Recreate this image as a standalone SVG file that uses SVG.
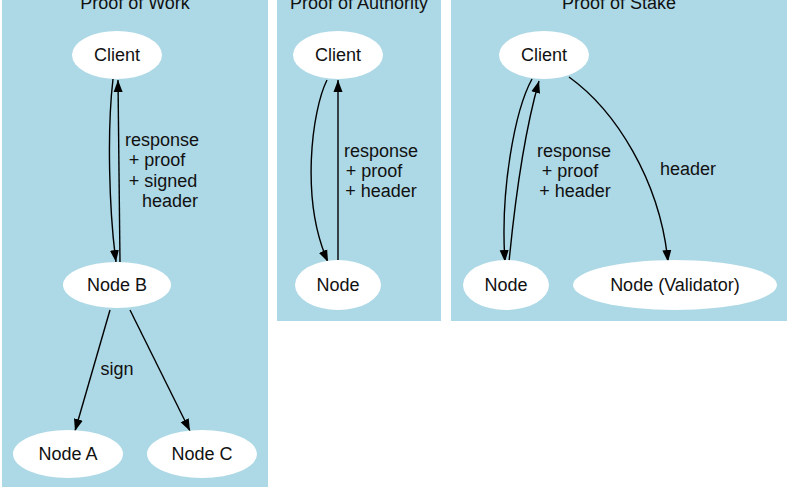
<svg xmlns="http://www.w3.org/2000/svg" width="787" height="487" viewBox="0 0 787 487">
<defs>
<marker id="arr" markerWidth="12" markerHeight="10" refX="12" refY="5" orient="auto" markerUnits="userSpaceOnUse">
<path d="M0,0.5 L12,5 L0,9.5 Z" fill="#000"/>
</marker>
<style>
text{font-family:"Liberation Sans",Arial,Helvetica,sans-serif;font-size:18px;fill:#111;}
.c{text-anchor:middle;}
.cl{fill:#add8e6;stroke:none;}
.n{fill:#fff;stroke:none;}
.e{fill:none;stroke:#000;stroke-width:1.4;marker-end:url(#arr);}
</style>
</defs>
<rect x="0" y="0" width="787" height="487" fill="#fff"/>
<g id="cluster_pow">
<rect class="cl" x="2" y="-10" width="266" height="500"/>
<text class="c" x="135" y="9">Proof of Work</text>
</g>
<g id="cluster_poa">
<rect class="cl" x="277" y="-10" width="164" height="331"/>
<text class="c" x="359" y="9">Proof of Authority</text>
</g>
<g id="cluster_pos">
<rect class="cl" x="451" y="-10" width="340" height="331"/>
<text class="c" x="619" y="9">Proof of Stake</text>
</g>
<g id="connectors">
<path class="e" d="M113,79 C107,130 109,210 116,262"/>
<path class="e" d="M120,262 L118,80"/>
<text class="c" x="162" y="146">response</text>
<text class="c" x="157" y="166">+ proof</text>
<text class="c" x="163" y="187">+ signed</text>
<text class="c" x="170" y="207">header</text>
<path class="e" d="M110,310 L75,431"/>
<path class="e" d="M130,310 L190,431"/>
<text class="c" x="117" y="375">sign</text>
<path class="e" d="M327,80 C312,110 300,200 328,262"/>
<path class="e" d="M338,262 L338,80"/>
<text class="c" x="381" y="157">response</text>
<text class="c" x="374" y="177">+ proof</text>
<text class="c" x="381" y="197">+ header</text>
<path class="e" d="M532,79 C515,110 500,190 505,262"/>
<path class="e" d="M509,262 C515,200 525,130 539,81"/>
<text class="c" x="574" y="157">response</text>
<text class="c" x="570" y="177">+ proof</text>
<text class="c" x="575" y="197">+ header</text>
<path class="e" d="M569,77 C615,110 660,180 668,262"/>
<text class="c" x="688" y="175">header</text>
</g>
<g id="pow_client"><ellipse class="n" cx="117" cy="55" rx="45" ry="24"/><text class="c" x="117" y="61">Client</text></g>
<g id="pow_nodeb"><ellipse class="n" cx="117" cy="285" rx="54" ry="23"/><text class="c" x="117" y="291">Node B</text></g>
<g id="pow_nodea"><ellipse class="n" cx="68" cy="454" rx="55" ry="24"/><text class="c" x="68" y="460">Node A</text></g>
<g id="pow_nodec"><ellipse class="n" cx="202" cy="454" rx="55" ry="24"/><text class="c" x="202" y="460">Node C</text></g>
<g id="poa_client"><ellipse class="n" cx="338" cy="55" rx="45" ry="24"/><text class="c" x="338" y="61">Client</text></g>
<g id="poa_node"><ellipse class="n" cx="338" cy="285" rx="43" ry="25"/><text class="c" x="338" y="291">Node</text></g>
<g id="pos_client"><ellipse class="n" cx="544" cy="55" rx="45" ry="24"/><text class="c" x="544" y="61">Client</text></g>
<g id="pos_node"><ellipse class="n" cx="506" cy="285" rx="43" ry="25"/><text class="c" x="506" y="291">Node</text></g>
<g id="pos_validator"><ellipse class="n" cx="675" cy="285" rx="102" ry="25"/><text class="c" x="675" y="291">Node (Validator)</text></g>
</svg>
